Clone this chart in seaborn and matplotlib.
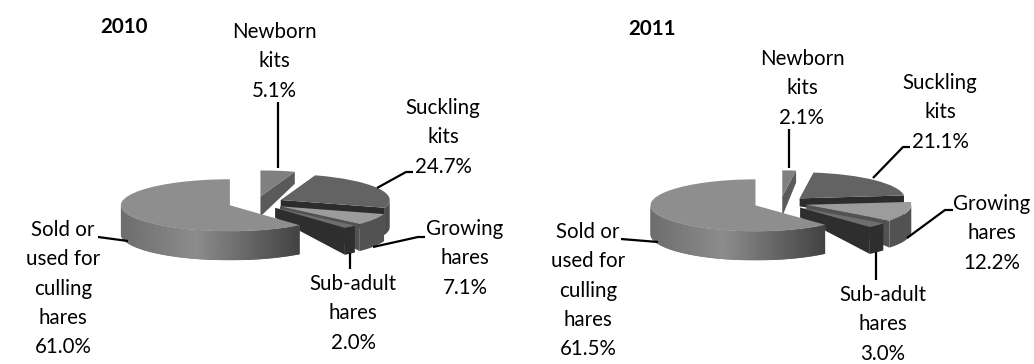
import matplotlib
matplotlib.use("Agg")
import matplotlib.pyplot as plt
from matplotlib.patches import Polygon
import numpy as np
import seaborn as sns

sns.set_theme(style="white")
plt.rcParams["font.family"] = ["Lato", "DejaVu Sans"]

# Share of each age class per year, clockwise from twelve o'clock
classes = ["Newborn\nkits", "Suckling\nkits", "Growing\nhares", "Sub-adult\nhares",
           "Sold or\nused for\nculling\nhares"]
shares_2010 = [5.1, 24.7, 7.1, 2.0, 61.0]
shares_2011 = [2.1, 21.1, 12.2, 3.0, 61.5]
years = ["2010", "2011"]

# Greys for the top faces, outer walls and cut faces
top_greys = ["#808080", "#636363", "#9c9c9c", "#6e6e6e", "#8e8e8e"]
wall_greys = ["#5c5c5c", "#4e4e4e", "#525252", "#2e2e2e", "#777777"]
cut_greys = ["#5a5a5a", "#2c2c2c", "#525252", "#2e2e2e", "#777777"]

W, H = 1034, 364
EXPLODE = 0.255
SQUASH_PX = 26
# Wall height at the rim and at the tip of each cut face, in pixels
RIM_DEPTH = [12, 27, 27, 27, 29]
TIP_DEPTH = [20, 8, 8, 10, 29]
# Painting order, rear slices first
Z_ORDER = [2, 1, 3, 4, 5]

plt.rcParams["figure.dpi"] = 100
fig = plt.figure(figsize=(W / 100, H / 100))


def pie_3d(ax, shares, rx, cx, cy):
    """Exploded pie with tilted top faces and extruded walls."""
    ax.set_position([0, 0, 1, 1])
    ax.patch.set_alpha(0)
    wedges, _ = ax.pie(shares, startangle=90, counterclock=False, radius=1,
                       explode=[EXPLODE] * len(shares), colors=top_greys,
                       wedgeprops={"linewidth": 0})
    ax.set_aspect("auto")
    ax.set_xlim(-cx / rx, (W - cx) / rx)
    ax.set_ylim(-(H - cy) / SQUASH_PX, cy / SQUASH_PX)

    edges = np.cumsum([0] + list(shares)) / sum(shares) * 360
    for i, wedge in enumerate(wedges):
        z = Z_ORDER[i] * 10
        wedge.set_zorder(z + 2)
        a0, a1 = edges[i], edges[i + 1]
        mid = np.radians((a0 + a1) / 2)
        ox, oy = EXPLODE * np.sin(mid), EXPLODE * np.cos(mid)
        rim_d = RIM_DEPTH[i] / SQUASH_PX
        tip_d = TIP_DEPTH[i] / SQUASH_PX

        # Outer wall along the visible part of the rim
        lo, hi = max(a0, 90), min(a1, 270)
        if hi > lo:
            t = np.radians(np.linspace(lo, hi, 80))
            x = ox + np.sin(t)
            y = oy + np.cos(t)
            pts = np.r_[np.c_[x, y], np.c_[x, y - rim_d][::-1]]
            wall = Polygon(pts, closed=True, fc=wall_greys[i], lw=0, zorder=z)
            ax.add_patch(wall)
            if i == len(shares) - 1:
                # Shaded wall of the largest slice: light centre-left, dark right
                xs = np.linspace(ox - 1, ox + np.sin(t).max(), 256)
                u = (xs - xs[0]) / (xs[-1] - xs[0])
                shade = np.interp(u, [0, 0.42, 1], [0.43, 0.55, 0.26])
                im = ax.imshow(shade[None, :], cmap="gray", vmin=0, vmax=1, aspect="auto",
                               extent=[xs[0], xs[-1], y.min() - rim_d, y.max()],
                               zorder=z + 1, interpolation="bilinear")
                im.set_clip_path(wall)
                ax.set_xlim(-cx / rx, (W - cx) / rx)
                ax.set_ylim(-(H - cy) / SQUASH_PX, cy / SQUASH_PX)

        # Cut face on the clockwise end of the slice
        if i < len(shares) - 1:
            e = np.radians(a1)
            ex, ey = ox + np.sin(e), oy + np.cos(e)
            face = [(ox, oy), (ex, ey), (ex, ey - rim_d), (ox, oy - tip_d)]
            ax.add_patch(Polygon(face, closed=True, fc=cut_greys[i], lw=0, zorder=z + 1))


ax_left = fig.add_axes([0, 0, 1, 1])
pie_3d(ax_left, shares_2010, 109, 256, 203)
ax_right = fig.add_axes([0, 0, 1, 1])
pie_3d(ax_right, shares_2011, 105, 780.5, 203)

# Overlay in figure pixels for titles, labels and leader lines
overlay = fig.add_axes([0, 0, 1, 1], zorder=5)
overlay.set_xlim(0, W)
overlay.set_ylim(H, 0)
overlay.axis("off")

FONT = 14.8
LEADING = 1.58
FIRST_LINE_OFFSET = 10


def label(x, y, name, share):
    overlay.text(x, y - FIRST_LINE_OFFSET, f"{name}\n{share:.1f}%", ha="center", va="top",
                 fontsize=FONT, color="black", linespacing=LEADING)


def leader(*pts, lw=1.6):
    xs, ys = zip(*pts)
    overlay.plot(xs, ys, color="black", lw=lw, solid_capstyle="butt")


overlay.text(124, 27, years[0], ha="center", va="center", fontsize=FONT, fontweight="bold", color="black")
overlay.text(652, 29, years[1], ha="center", va="center", fontsize=FONT, fontweight="bold", color="black")

for (x, y), name, share in zip([(274, 32), (443, 108), (465, 229), (353, 284), (63, 230)],
                               classes, shares_2010):
    label(x, y, name, share)
for (x, y), name, share in zip([(802, 59), (940, 83), (992, 204), (883, 295), (588, 232)],
                               classes, shares_2011):
    label(x, y, name, share)

leader((278, 102), (278, 168))
leader((413, 172), (406, 172), (377, 188))
leader((425, 237), (418, 237), (373, 247))
leader((350, 253), (350, 269))
leader((98, 237), (128, 241))

leader((789, 129), (789, 168))
leader((910, 147), (903, 147), (873, 178))
leader((953, 210), (945, 210), (907, 238))
leader((876, 252), (876, 280))
leader((621, 239), (658, 242))

fig.savefig("out.png", dpi=100)
